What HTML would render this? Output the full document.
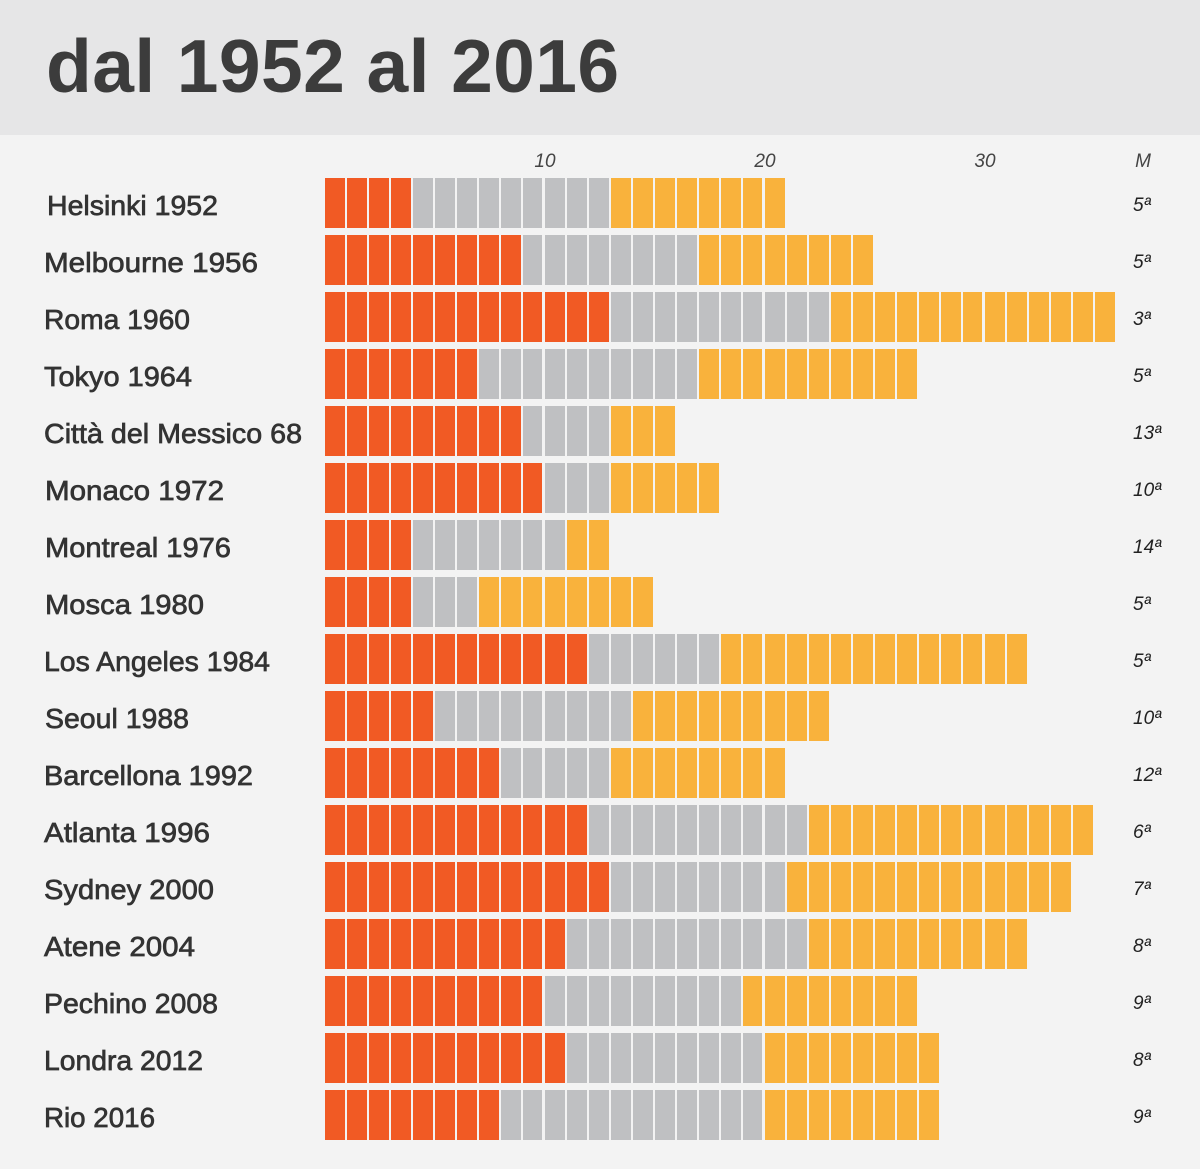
<!DOCTYPE html>
<html><head><meta charset="utf-8">
<style>
html,body{margin:0;padding:0;background:#f3f3f3;}
#wrap{position:relative;width:1200px;height:1169px;overflow:hidden;background:#f3f3f3;font-family:"Liberation Sans",sans-serif;}
#hdr{position:absolute;left:0;top:0;width:1200px;height:135px;background:#e6e6e7;}
#hdr h1{position:absolute;left:46px;top:21px;margin:0;font-size:75px;line-height:90px;font-weight:bold;color:#3c3c3c;letter-spacing:0.4px;}
</style></head><body>
<div id="wrap">
<div id="hdr"><h1>dal 1952 al 2016</h1></div>
<svg id="s" width="1200" height="1169" style="position:absolute;left:0;top:0"></svg>
</div>
<script>
var d=[["Helsinki 1952",4,9,8,"5ª",47,218],["Melbourne 1956",9,8,8,"5ª",44,258],["Roma 1960",13,10,13,"3ª",44,190],["Tokyo 1964",7,10,10,"5ª",44,192],["Città del Messico 68",9,4,3,"13ª",44,302],["Monaco 1972",10,3,5,"10ª",45,224],["Montreal 1976",4,7,2,"14ª",45,231],["Mosca 1980",4,3,8,"5ª",45,204],["Los Angeles 1984",12,6,14,"5ª",44,270],["Seoul 1988",5,9,9,"10ª",45,189],["Barcellona 1992",8,5,8,"12ª",44,253],["Atlanta 1996",12,10,13,"6ª",44,210],["Sydney 2000",13,8,13,"7ª",44,214],["Atene 2004",11,11,10,"8ª",44,195],["Pechino 2008",10,9,8,"9ª",44,218],["Londra 2012",11,9,8,"8ª",44,203],["Rio 2016",8,12,8,"9ª",44,155]];
var h='';
var tk=[[545,"10"],[765,"20"],[985,"30"],[1143,"M"]];
tk.forEach(function(t){h+='<text x="'+t[0]+'" y="167" font-size="19" font-style="italic" fill="#444" text-anchor="middle" font-family="Liberation Sans,sans-serif">'+t[1]+'</text>';});
d.forEach(function(r,i){
 var y=178+i*57;
 h+='<text x="'+r[5]+'" y="'+(y+37)+'" font-size="28" fill="#333" stroke="#333" stroke-width="0.7" textLength="'+(r[6]-r[5])+'" lengthAdjust="spacingAndGlyphs" font-family="Liberation Sans,sans-serif">'+r[0]+'</text>';
 h+='<text x="1133" y="'+(y+33)+'" font-size="19" font-style="italic" fill="#222" font-family="Liberation Sans,sans-serif">'+r[4]+'</text>';
 var cols=["#f15a24","#bfc0c2","#f9b23c"],k=0;
 for(var c=0;c<3;c++){for(var j=0;j<r[c+1];j++){
  var x=325+k*22; var w=20; if((k+1)%10==0) w=19;
  h+='<rect x="'+x+'" y="'+y+'" width="'+w+'" height="50" fill="'+cols[c]+'"/>';k++;}}
});
document.getElementById('s').innerHTML=h;
</script>
</body></html>
